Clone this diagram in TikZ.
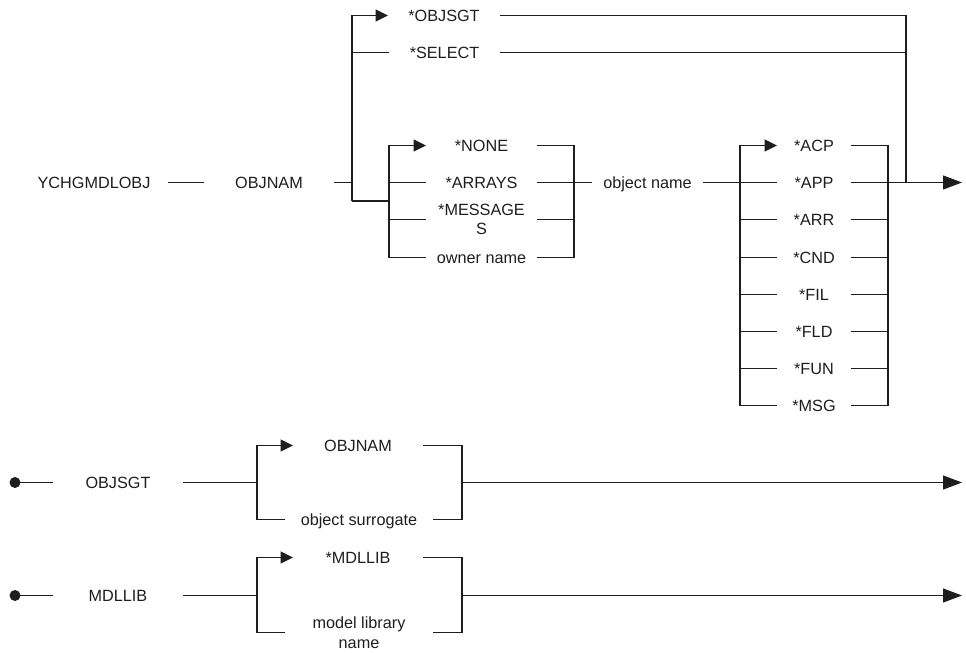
\documentclass[tikz,border=0pt]{standalone}
\usepackage{fontspec}
\setmainfont{Liberation Sans}
\usetikzlibrary{arrows.meta}
\definecolor{ink}{RGB}{30,30,30}
\begin{document}
\begin{tikzpicture}[x=1bp,y=-1bp, line width=1.2bp, color=ink,
  lbl/.style={inner sep=0pt, outer sep=0pt, minimum height=0pt, text=ink,
    font=\fontsize{16.3}{19}\selectfont, text height=11.7bp, text depth=0pt, align=center},
  lbl2/.style={inner sep=0pt, outer sep=0pt, minimum height=0pt, text=ink,
    font=\fontsize{16.3}{19.5}\selectfont, align=center},
  arr/.style={-{Triangle[length=12.5bp,width=12bp]}},
  endarr/.style={-{Triangle[length=19bp,width=14bp]}},
  startdot/.style={circle, fill=ink, draw=none, inner sep=0pt, minimum size=11bp}]
\useasboundingbox (0,0) rectangle (966,653);

% ---------- main command row ----------
\node[lbl, minimum width=148bp] (ychg)   at (94,182.5)  {YCHGMDLOBJ};
\node[lbl, minimum width=130bp] (objnam) at (269,182.5) {OBJNAM};
\node[lbl, minimum width=112bp] (objsgt) at (444,15.5)  {*OBJSGT};
\node[lbl, minimum width=111bp] (select) at (444.5,52.5) {*SELECT};

\node[lbl,  minimum width=111bp] (none)   at (481.5,145.5) {*NONE};
\node[lbl,  minimum width=111bp] (arrays) at (481.5,182.5) {*ARRAYS};
\node[lbl2, minimum width=111bp] (mess)   at (481.5,219.5) {*MESSAGE\\S};
\node[lbl,  minimum width=111bp] (owner)  at (481.5,257.5) {owner name};

\node[lbl, minimum width=111bp] (objname) at (647.5,182.5) {object name};

\node[lbl, minimum width=74bp] (acp) at (814,145.5) {*ACP};
\node[lbl, minimum width=74bp] (app) at (814,182.5) {*APP};
\node[lbl, minimum width=74bp] (arr) at (814,219.5) {*ARR};
\node[lbl, minimum width=74bp] (cnd) at (814,257.5) {*CND};
\node[lbl, minimum width=74bp] (fil) at (814,294.5) {*FIL};
\node[lbl, minimum width=74bp] (fld) at (814,331.5) {*FLD};
\node[lbl, minimum width=74bp] (fun) at (814,368.5) {*FUN};
\node[lbl, minimum width=74bp] (msg) at (814,405.5) {*MSG};

% junction columns
\coordinate (jA) at (352,182.5);
\coordinate (jAbot) at (352,201);
\coordinate (xB) at (389,0);
\coordinate (xC) at (574,0);
\coordinate (xD) at (740,0);
\coordinate (xE) at (888,0);
\coordinate (xF) at (906,0);
\coordinate (end1) at (962,182.5);

\draw (ychg) -- (objnam);
\draw (objnam) -- (jA);
\draw[arr] (jAbot) |- (objsgt.west);
\draw (select.west -| jA) -- (select.west);
\draw (jAbot) -- (jAbot -| xB);

% owner qualifier group
\draw[arr] (owner.west -| xB) |- (none.west);
\draw (owner.west -| xB) -- (owner.west);
\draw (arrays.west -| xB) -- (arrays.west);
\draw (mess.west -| xB) -- (mess.west);
\draw (none.east) -| (owner.east -| xC) -- (owner.east);
\draw (mess.east) -- (mess.east -| xC);
\draw (arrays.east) -- (objname.west);

% object type group
\draw (objname.east) -- (app.west);
\draw[arr] (msg.west -| xD) |- (acp.west);
\foreach \n in {arr,cnd,fil,fld,fun,msg}
  \draw (\n.west -| xD) -- (\n.west);
\draw (acp.east) -| (msg.east -| xE) -- (msg.east);
\foreach \n in {arr,cnd,fil,fld,fun}
  \draw (\n.east) -- (\n.east -| xE);
\draw[endarr] (app.east) -- (end1);

% bypass for *OBJSGT / *SELECT
\draw (objsgt.east) -| (end1 -| xF);
\draw (select.east) -- (select.east -| xF);

% ---------- OBJSGT row ----------
\node[startdot] (d1) at (15,482.5) {};
\node[lbl, minimum width=130bp] (sgt)   at (118,482.5) {OBJSGT};
\node[lbl, minimum width=130bp] (sgtA)  at (358,445.5) {OBJNAM};
\node[lbl, minimum width=148bp] (sgtB)  at (359,519.5) {object surrogate};
\coordinate (xG) at (257,0);
\coordinate (xH) at (462,0);
\coordinate (end2) at (962,482.5);
\draw (d1.center) -- (sgt.west);
\draw (sgt.east) -- (sgt.east -| xG);
\draw[arr] (sgtB.west -| xG) |- (sgtA.west);
\draw (sgtB.west -| xG) -- (sgtB.west);
\draw (sgtA.east) -| (sgtB.east -| xH) -- (sgtB.east);
\draw[endarr] (end2 -| xH) -- (end2);

% ---------- MDLLIB row ----------
\node[startdot] (d2) at (15,595.5) {};
\node[lbl,  minimum width=130bp] (lib)  at (118,595.5) {MDLLIB};
\node[lbl,  minimum width=130bp] (libA) at (358,557.5) {*MDLLIB};
\node[lbl2, minimum width=148bp] (libB) at (359,632.5) {model library\\name};
\coordinate (end3) at (962,595.5);
\draw (d2.center) -- (lib.west);
\draw (lib.east) -- (lib.east -| xG);
\draw[arr] (libB.west -| xG) |- (libA.west);
\draw (libB.west -| xG) -- (libB.west);
\draw (libA.east) -| (libB.east -| xH) -- (libB.east);
\draw[endarr] (end3 -| xH) -- (end3);
\end{tikzpicture}
\end{document}
